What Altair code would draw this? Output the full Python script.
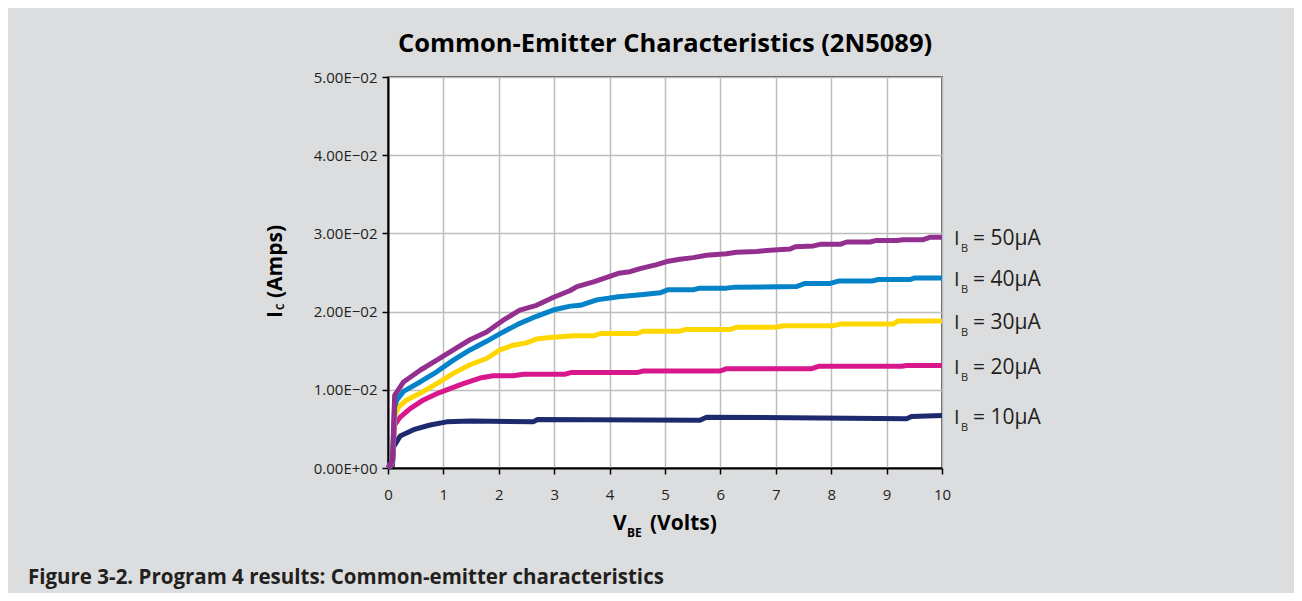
import altair as alt
import pandas as pd

# ---------------- data ----------------
v_10 = [0, 0.08, 0.10, 0.22, 0.46, 0.76, 1.06, 1.50, 2.62, 2.70, 5.63, 5.75, 9.36, 9.45, 10]
i_10 = [0, 0.0003, 0.0027, 0.0041, 0.0049, 0.0055, 0.0059, 0.0060, 0.0059, 0.0062, 0.0061,
        0.0065, 0.0063, 0.0066, 0.0067]

v_20 = [0, 0.08, 0.12, 0.22, 0.40, 0.64, 0.88, 1.06, 1.36, 1.66, 1.90, 2.26, 2.44, 3.20, 3.30,
        4.49, 4.61, 6.00, 6.11, 7.65, 7.77, 9.27, 9.36, 10]
i_20 = [0, 0.0005, 0.0055, 0.0065, 0.0076, 0.0087, 0.0095, 0.0100, 0.0108, 0.0115, 0.0118,
        0.0118, 0.0120, 0.0120, 0.0122, 0.0122, 0.0124, 0.0124, 0.0127, 0.0127, 0.0130,
        0.0130, 0.0131, 0.0131]

v_30 = [0, 0.08, 0.12, 0.19, 0.34, 0.64, 0.88, 1.18, 1.48, 1.78, 2.02, 2.26, 2.50, 2.68, 2.92,
        3.35, 3.71, 3.83, 4.49, 4.61, 5.27, 5.36, 6.17, 6.29, 7.00, 7.14, 8.04, 8.16, 9.12,
        9.21, 10]
i_30 = [0, 0.0008, 0.0066, 0.0078, 0.0087, 0.0098, 0.0108, 0.0121, 0.0132, 0.0140, 0.0151,
        0.0157, 0.0160, 0.0165, 0.0167, 0.0169, 0.0169, 0.0172, 0.0172, 0.0175, 0.0175,
        0.0177, 0.0177, 0.0180, 0.0180, 0.0182, 0.0182, 0.0184, 0.0184, 0.0188, 0.0188]

v_40 = [0, 0.08, 0.12, 0.16, 0.28, 0.58, 0.88, 1.18, 1.48, 1.78, 2.08, 2.38, 2.68, 2.98, 3.29,
        3.47, 3.77, 4.16, 4.61, 4.91, 5.06, 5.51, 5.63, 6.11, 6.23, 7.37, 7.53, 7.98, 8.13,
        8.73, 8.85, 9.42, 9.51, 10]
i_40 = [0, 0.0008, 0.0078, 0.0087, 0.0098, 0.0110, 0.0123, 0.0138, 0.0151, 0.0162, 0.0174,
        0.0185, 0.0194, 0.0202, 0.0207, 0.0208, 0.0215, 0.0219, 0.0222, 0.0224, 0.0228,
        0.0228, 0.0230, 0.0230, 0.0231, 0.0232, 0.0236, 0.0236, 0.0239, 0.0239, 0.0241,
        0.0241, 0.0243, 0.0243]

v_50 = [0, 0.08, 0.12, 0.28, 0.58, 0.88, 1.18, 1.48, 1.78, 2.08, 2.38, 2.68, 2.98, 3.29, 3.41,
        3.71, 4.16, 4.37, 4.55, 4.85, 5.03, 5.27, 5.51, 5.75, 6.11, 6.29, 6.65, 6.83, 7.26,
        7.35, 7.68, 7.80, 8.16, 8.28, 8.70, 8.82, 9.18, 9.30, 9.66, 9.78, 10]
i_50 = [0, 0.0010, 0.0093, 0.0110, 0.0125, 0.0138, 0.0151, 0.0164, 0.0174, 0.0189, 0.0202,
        0.0208, 0.0218, 0.0227, 0.0232, 0.0238, 0.0249, 0.0251, 0.0255, 0.0260, 0.0264,
        0.0267, 0.0269, 0.0272, 0.0274, 0.0276, 0.0277, 0.0278, 0.0280, 0.0283, 0.0284,
        0.0286, 0.0286, 0.0289, 0.0289, 0.0291, 0.0291, 0.0292, 0.0292, 0.0295, 0.0295]

series_names = ["10μA", "20μA", "30μA", "40μA", "50μA"]
series_colors = ["#1d2a6e", "#d8178c", "#ffd700", "#0483c8", "#93308f"]

x_tick_values = [0, 1, 2, 3, 4, 5, 6, 7, 8, 9, 10]
y_tick_values = [0, 0.01, 0.02, 0.03, 0.04, 0.05]
y_tick_labels = ["0.00E+00", "1.00E−02", "2.00E−02", "3.00E−02", "4.00E−02", "5.00E−02"]

chart_title = "Common-Emitter Characteristics (2N5089)"
caption = "Figure 3-2. Program 4 results: Common-emitter characteristics"

# ---------------- tables ----------------
all_v = [v_10, v_20, v_30, v_40, v_50]
all_i = [i_10, i_20, i_30, i_40, i_50]
rows = []
for name, vs, cs in zip(series_names, all_v, all_i):
    for k, (v, c) in enumerate(zip(vs, cs)):
        rows.append({"series": name, "V": v, "I": c, "k": k})
df = pd.DataFrame(rows)

ends = pd.DataFrame({
    "series": series_names,
    "V": [vs[-1] for vs in all_v],
    "I": [cs[-1] for cs in all_i],
    "txt": ["= " + s for s in series_names],
})

FONT = "Open Sans"
INK = "#231f20"
W, H = 554, 391

label_expr = "[" + ",".join("'" + s + "'" for s in y_tick_labels) + "][round(datum.value*100)]"

xs = alt.X("V:Q", scale=alt.Scale(domain=[0, 10], nice=False, zero=False),
           axis=alt.Axis(values=x_tick_values, title=None, labelFontSize=15, labelFont=FONT,
                         labelColor=INK, labelPadding=13, tickSize=6, tickColor="#000",
                         tickWidth=1.5, domainColor="#000", domainWidth=2, grid=True,
                         gridColor="#bdbdbd", gridWidth=1.5, labelFlush=False))
ys = alt.Y("I:Q", scale=alt.Scale(domain=[0, 0.05], nice=False),
           axis=alt.Axis(values=y_tick_values, labelExpr=label_expr, title=None,
                         labelFontSize=15, labelFont=FONT, labelColor=INK, labelPadding=5,
                         tickSize=6, tickColor="#000", tickWidth=1.5, domainColor="#000",
                         domainWidth=2, grid=True, gridColor="#bdbdbd", gridWidth=1.5,
                         labelFlush=False))

lines = alt.Chart(df).mark_line(strokeWidth=5, strokeJoin="round", strokeCap="butt").encode(
    x=xs, y=ys,
    color=alt.Color("series:N", scale=alt.Scale(domain=series_names, range=series_colors),
                    legend=None),
    order="k:Q",
)

lab_i = alt.Chart(ends).mark_text(text="I", align="left", baseline="alphabetic", dx=12, dy=8,
                                  fontSize=20, font=FONT, color=INK).encode(x="V:Q", y="I:Q")
lab_b = alt.Chart(ends).mark_text(text="B", align="left", baseline="alphabetic", dx=19, dy=15,
                                  fontSize=11, font=FONT, color=INK).encode(x="V:Q", y="I:Q")
lab_v = alt.Chart(ends).mark_text(align="left", baseline="alphabetic", dx=31, dy=8,
                                  fontSize=21, font=FONT, color=INK).encode(
    x="V:Q", y="I:Q", text="txt:N")

one = pd.DataFrame({"a": [0]})


def free_text(txt, x, y, size, weight="bold", angle=0, color="#000", align="left"):
    kw = dict(text=txt, align=align, baseline="alphabetic", fontSize=size, font=FONT,
              fontWeight=weight, color=color)
    if angle:
        kw["angle"] = angle
    return alt.Chart(one).mark_text(**kw).encode(x=alt.value(x), y=alt.value(y))


ttl = free_text(chart_title, W / 2, -25, 25.5, align="center")
xt1 = free_text("V", 225, 453, 21)
xt2 = free_text("BE", 239, 460, 12)
xt3 = free_text("(Volts)", 262, 453, 21)
yt1 = free_text("I", -106, 241, 21, angle=270)
yt2 = free_text("C", -104, 233, 10, angle=270)
yt3 = free_text("(Amps)", -106, 221, 21, angle=270)
cap = free_text(caption, -360, 507, 20.5, color=INK)

chart = alt.layer(lines, lab_i, lab_b, lab_v, ttl, xt1, xt2, xt3, yt1, yt2, yt3, cap).properties(
    width=W, height=H,
    autosize=alt.AutoSizeParams(type="none"),
    padding={"left": 380, "top": 69, "right": 352, "bottom": 125},
    background="#dcdddf",
).configure_view(fill="white", stroke="#222", strokeWidth=1.5)

chart.save("out.html", embed_options={"renderer": "svg", "actions": False})
